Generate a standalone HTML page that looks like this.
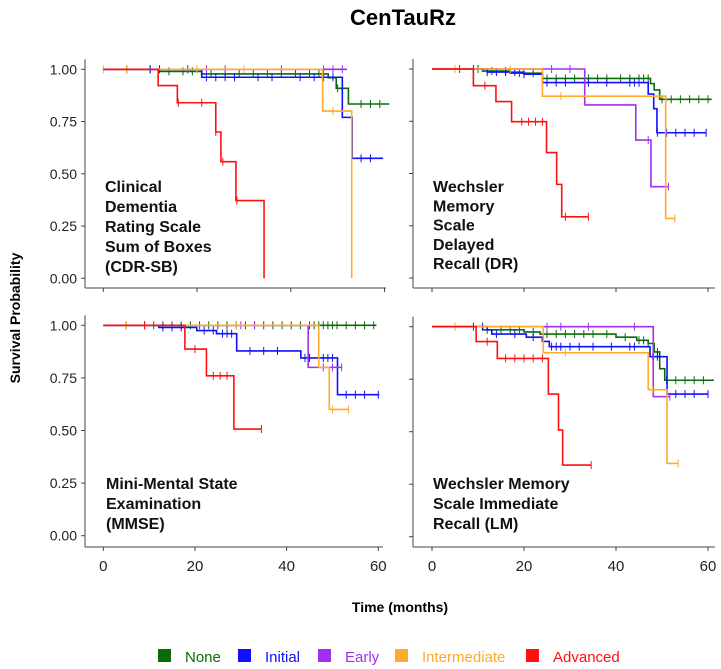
<!DOCTYPE html>
<html><head><meta charset="utf-8"><style>
body{margin:0;background:#fff;}
svg{display:block;font-family:"Liberation Sans",Arial,sans-serif;}
</style></head><body>
<svg id="chart" width="721" height="669" viewBox="0 0 721 669">
<text x="403" y="25" font-size="22" font-weight="bold" text-anchor="middle">CenTauRz</text>
<text transform="translate(20,318) rotate(-90)" font-size="14" font-weight="bold" text-anchor="middle">Survival Probability</text>
<text x="400" y="612" font-size="14" font-weight="bold" text-anchor="middle">Time (months)</text>
<g id="legend"></g>
<g id="panels"></g>
</svg>
<script>
const groups = ["None","Initial","Early","Intermediate","Advanced"];
const colors = ["#0a6b0a","#1010ff","#a030ee","#ffaa2a","#ff1010"];
const xTicks = [0,20,40,60];
const yTicks = [0,0.25,0.5,0.75,1];
const yTickLabels = ["0.00","0.25","0.50","0.75","1.00"];
// each series: event times, survival after each event, end time, censor times
// CDR-SB
const cdrTimes = [[12,21,48,49.7,52.3],[21,51,53.1],[],[46.8,53],[11.7,15.8,24,25.1,28.3,34.3]];
const cdrSurv = [[0.99,0.978,0.96,0.909,0.834],[0.962,0.77,0.574],[],[0.80,0],[0.922,0.84,0.70,0.558,0.372,0]];
const cdrEnd = [61,59.7,52,53,34.3];
const cdrCens = [[5,10,14,17,19,23,26,29,32,35,38,41,44,46,47,50,51,55,57,59],[10,12,18,22,24,26,28,33,36,42,45,47,49,55,57],[18,22,26,38,47,49,51],[0,5,20,30,49],[16,21,24,25.5,28.5]];
// DR
const drTimes = [[11,17,24,47.5,48.3,49.5],[12,20,24,47,48.2,48.9],[33.2,44.3,47.6],[24,50.8],[9,13.9,17.3,24.9,27.1,28.2]];
const drSurv = [[0.99,0.98,0.955,0.93,0.90,0.855],[0.985,0.975,0.935,0.88,0.81,0.695],[0.828,0.66,0.437],[0.87,0.285],[0.92,0.844,0.748,0.60,0.448,0.293]];
const drEnd = [60.8,59.6,51.4,52.8,34];
const drCens = [[6,10,13,16,19,22,25,27,29,31,34,36,38,41,43,45,46,47,50,52,54,56,58,60],[9,12,14,16,18,20,25,27,29,34,38,43,44,45,49,51,53,55,57,59.6],[26,30,47,51.4],[5,17,28,52.8],[11.5,19.5,21,22.5,24,29,34]];
// MMSE
const mmTimes = [[],[12.1,20.4,24.7,29.1,43.1,51.1],[44.7],[47,49.3],[17.8,22.5,28.5]];
const mmSurv = [[],[0.99,0.975,0.96,0.878,0.845,0.67],[0.80],[0.80,0.60],[0.887,0.76,0.507]];
const mmEnd = [59.6,60.2,52.1,53.5,34.5];
const mmCens = [[5,9,11,13,15,17,19,21,23,25,27,29,31,33,35,37,39,41,43,45,46,47,48,49,50,51,53,55,57,59],[9,13,15,17,22,24,26,27,28,32,35,38,44,45,48,49,50,53,55,57,60],[30,33,48,50,52],[5,29,50,53.5],[9,20,24,25.5,27,34.5]];
// LM
const lmTimes = [[11,20,23.5,40,44.5,47,48.3,49.5,50.6],[12,13,20.5,24,25.5,47.4,51.1],[48.1],[24.2,47,51.1],[9.6,14.2,25.3,27.5,28.4]];
const lmSurv = [[0.985,0.975,0.965,0.95,0.935,0.92,0.88,0.80,0.745],[0.985,0.965,0.95,0.93,0.905,0.857,0.679],[0.667],[0.876,0.70,0.349],[0.929,0.849,0.679,0.508,0.341]];
const lmEnd = [61.3,60,51.7,53.5,34.6];
const lmCens = [[5,12,15,17,19,22,25,27,29,31,33,35,38,42,45,46,47,49,51,53,55,57,59],[9,11,14,18,22,26,27,28,30,32,35,39,43,44,48,49,53,55,57,60],[25,28,34,44,51.7],[5,29,48,53.5],[12,16,18,20,22,24,34.6]];

const panelDefs = [
 {name:"cdr-sb", times:cdrTimes, surv:cdrSurv, end:cdrEnd, cens:cdrCens, x0:103.3, x60:384.5, y1:69.3, y0:278.3, axX:85, axY:288, axR:386, yLab:true, xLab:false, label:["Clinical","Dementia","Rating Scale","Sum of Boxes","(CDR-SB)"], lx:105, ly:192, lh:20},
 {name:"dr", times:drTimes, surv:drSurv, end:drEnd, cens:drCens, x0:432, x60:708, y1:69, y0:278, axX:413, axY:288, axR:715, yLab:false, xLab:false, label:["Wechsler","Memory","Scale","Delayed","Recall (DR)"], lx:433, ly:192, lh:19.3},
 {name:"mmse", times:mmTimes, surv:mmSurv, end:mmEnd, cens:mmCens, x0:103.3, x60:378.3, y1:325.3, y0:535.7, axX:85, axY:547, axR:383, yLab:true, xLab:true, label:["Mini-Mental State","Examination","(MMSE)"], lx:106, ly:489, lh:20},
 {name:"lm", times:lmTimes, surv:lmSurv, end:lmEnd, cens:lmCens, x0:432, x60:708, y1:326.7, y0:536.7, axX:413, axY:547, axR:715, yLab:false, xLab:true, label:["Wechsler Memory","Scale Immediate","Recall (LM)"], lx:433, ly:489, lh:20}
];
const NS="http://www.w3.org/2000/svg";
function mk(tag,attrs,parent){const e=document.createElementNS(NS,tag);for(const k in attrs)e.setAttribute(k,attrs[k]);parent.appendChild(e);return e;}
const root=document.getElementById('panels');
panelDefs.forEach(p=>{
  const g=mk('g',{},root);
  
  
  const xs=t=>p.x0+(p.x60-p.x0)*t/60;
  const ys=v=>p.y0-(p.y0-p.y1)*v;
  const ya=mk('line',{x1:p.axX,x2:p.axX,y1:p.y1-10,y2:p.axY,stroke:'#444','stroke-width':1},g);
  
  
  const xa=mk('line',{x1:p.axX,x2:p.axR,y1:p.axY,y2:p.axY,stroke:'#444','stroke-width':1},g);
  
  
  yTicks.forEach((v,i)=>{
    mk('line',{x1:p.axX-4,x2:p.axX,y1:ys(v),y2:ys(v),stroke:'#444'},g);
    if(p.yLab){const t=mk('text',{x:p.axX-8,y:ys(v)+5,'font-size':14,'text-anchor':'end',fill:'#222'},g);t.textContent=yTickLabels[i];
      
      }
  });
  xTicks.forEach(v=>{
    mk('line',{x1:xs(v),x2:xs(v),y1:p.axY,y2:p.axY+4,stroke:'#444'},g);
    if(p.xLab){const t=mk('text',{x:xs(v),y:p.axY+24,'font-size':15,'text-anchor':'middle',fill:'#222'},g);t.textContent=v;
      
      }
  });
  groups.forEach((gr,i)=>{
    const T=p.times[i],S=p.surv[i];
    let d='M'+xs(0)+','+ys(1);let s=1;
    T.forEach((t,k)=>{d+=' H'+xs(t)+' V'+ys(S[k]);s=S[k];});
    const endT=s===0?T[T.length-1]:p.end[i];
    d+=' H'+xs(endT);
    const path=mk('path',{d:d,fill:'none',stroke:colors[i],'stroke-width':1.6},g);
    
    
    const cg=mk('g',{stroke:colors[i],'stroke-width':1},g);
    p.cens[i].forEach(c=>{
      let v=1;T.forEach((t,k)=>{if(t<=c)v=S[k];});
      const cm=mk('line',{x1:xs(c),x2:xs(c),y1:ys(v)-4,y2:ys(v)+4},cg);
      
      
    });
  });
  const lt=mk('text',{x:p.lx,y:p.ly,'font-size':16,'font-weight':'bold',fill:'#111'},g);
  
  
  p.label.forEach((l,k)=>{const ts=mk('tspan',{x:p.lx,y:p.ly+k*p.lh},lt);ts.textContent=l;});
});
const leg=document.getElementById('legend');
const legSq=[158,238,318,395,526];
groups.forEach((gr,i)=>{
  const eg=mk('g',{},leg);
  
  
  mk('rect',{x:legSq[i],y:649,width:13,height:13,fill:colors[i]},eg);
  const t=mk('text',{x:legSq[i]+27,y:662,'font-size':15,fill:colors[i]},eg);t.textContent=gr;
});
</script>
</body></html>
